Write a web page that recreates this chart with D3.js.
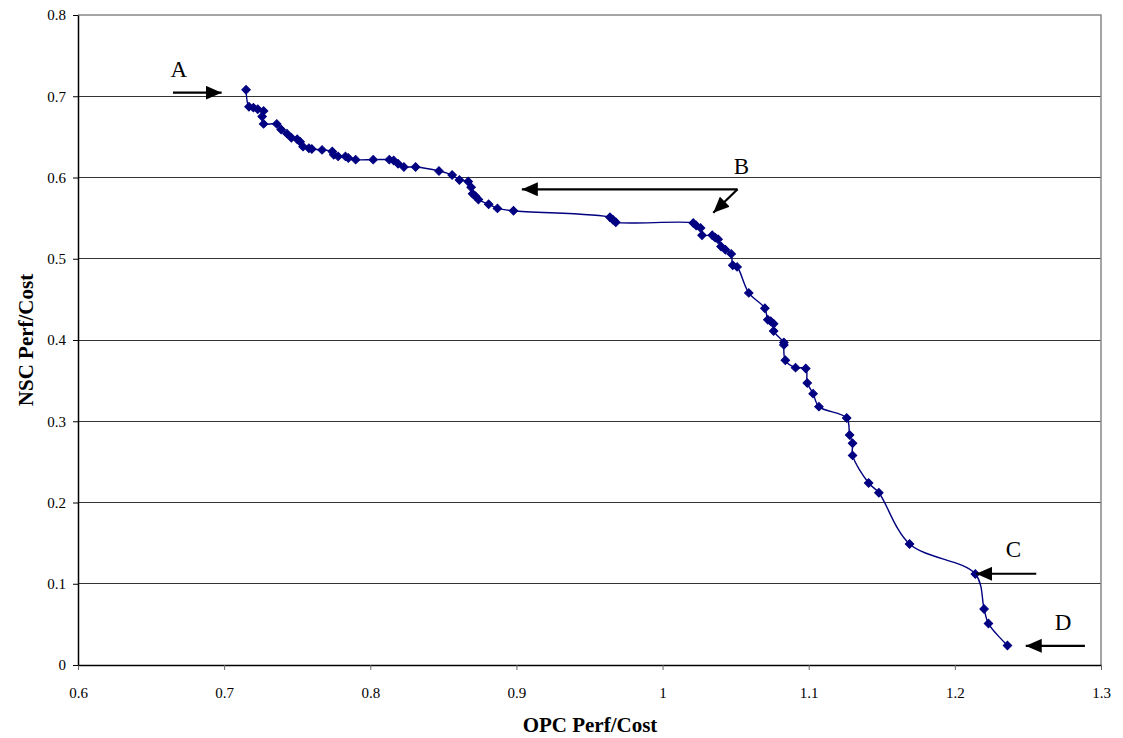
<!DOCTYPE html>
<html>
<head>
<meta charset="utf-8">
<script src="https://cdn.jsdelivr.net/npm/d3@7"></script>
<style>
  html, body { margin: 0; padding: 0; background: #fff; }
  svg { display: block; }
  text { font-family: "Liberation Serif", "Times New Roman", serif; }
</style>
</head>
<body>
<svg id="chart" width="1123" height="738"></svg>
<script>
// ---- Data ----
const opc = [0.715,0.717,0.720,0.723,0.727,0.726,0.727,0.736,0.739,0.743,0.746,0.750,0.752,0.754,0.758,0.760,0.767,0.774,0.775,0.778,0.783,0.785,0.790,0.802,0.813,0.816,0.819,0.823,0.831,0.847,0.856,0.861,0.867,0.869,0.870,0.872,0.874,0.881,0.887,0.898,0.964,0.966,0.968,1.021,1.023,1.026,1.027,1.034,1.036,1.038,1.040,1.043,1.047,1.048,1.051,1.059,1.070,1.072,1.074,1.076,1.076,1.083,1.083,1.084,1.091,1.098,1.099,1.103,1.107,1.126,1.128,1.130,1.130,1.141,1.148,1.169,1.214,1.220,1.223,1.236];
const nsc = [0.708,0.687,0.686,0.684,0.682,0.675,0.666,0.666,0.659,0.654,0.649,0.647,0.644,0.638,0.636,0.635,0.634,0.632,0.628,0.626,0.626,0.624,0.622,0.622,0.622,0.621,0.617,0.613,0.613,0.608,0.603,0.597,0.595,0.588,0.580,0.577,0.573,0.567,0.562,0.559,0.551,0.548,0.545,0.544,0.541,0.538,0.529,0.529,0.526,0.524,0.515,0.511,0.506,0.492,0.490,0.458,0.439,0.425,0.423,0.420,0.411,0.397,0.394,0.375,0.366,0.365,0.347,0.334,0.318,0.304,0.283,0.273,0.258,0.224,0.212,0.149,0.112,0.069,0.051,0.024];
const xTicks = [0.6,0.7,0.8,0.9,1.0,1.1,1.2,1.3];
const yTicks = [0,0.1,0.2,0.3,0.4,0.5,0.6,0.7,0.8];
const xTitle = "OPC Perf/Cost";
const yTitle = "NSC Perf/Cost";
// annotation labels, arrow tails and tips in data units
const annLabels = ["A","B","C","D"];
const annLabelX = [0.669,1.054,1.240,1.274];
const annLabelY = [0.733,0.614,0.142,0.052];
const arrowFromX = [0.6650,1.0513,1.0513,1.2557,1.2890];
const arrowFromY = [0.7044,0.5855,0.5855,0.1123,0.0236];
const arrowToX   = [0.6983,0.9037,1.0347,1.2146,1.2485];
const arrowToY   = [0.7044,0.5855,0.5566,0.1123,0.0236];

// ---- Layout ----
const svg = d3.select("#chart");
const mLeft = 78, mRight = 1101, mTop = 15, mBottom = 665;
const x = d3.scaleLinear().domain([0.6,1.3]).range([mLeft,mRight]);
const y = d3.scaleLinear().domain([0,0.8]).range([mBottom,mTop]);
const fmt = d => String(+d.toFixed(1));
const serif = "Liberation Serif, Times New Roman, serif";

// gridlines
svg.append("g").selectAll("line").data(yTicks.filter(v => v > 0 && v < 0.8)).join("line")
  .attr("x1", mLeft).attr("x2", mRight)
  .attr("y1", d => y(d)).attr("y2", d => y(d))
  .attr("stroke", "#333").attr("stroke-width", 1).attr("shape-rendering","crispEdges");

// plot border (top/right gray)
svg.append("path")
  .attr("d", `M${mLeft},${y(0.8)}H${mRight}V${mBottom}`)
  .attr("fill","none").attr("stroke","#888").attr("stroke-width",1.5);

// axes
const xAxis = d3.axisBottom(x).tickValues(xTicks).tickFormat(fmt).tickSize(5).tickSizeOuter(0).tickPadding(17);
const yAxis = d3.axisLeft(y).tickValues(yTicks).tickFormat(fmt).tickSize(5).tickSizeOuter(0).tickPadding(7);
const gx = svg.append("g").attr("transform",`translate(0,${mBottom})`).call(xAxis);
const gy = svg.append("g").attr("transform",`translate(${mLeft},0)`).call(yAxis);
[gx, gy].forEach(g => {
  g.attr("font-family", serif).attr("font-size", 15);
  g.select(".domain").attr("stroke","#000").attr("stroke-width",1.5);
  g.selectAll(".tick line").attr("stroke","#000").attr("stroke-width",1);
  g.selectAll(".tick text").attr("fill","#000").attr("font-family", serif).attr("font-size", 15);
});
gx.selectAll(".tick line").attr("stroke","#666");

// axis titles
svg.append("text").attr("x", 590).attr("y", 732).attr("text-anchor","middle")
  .attr("font-family", serif).attr("font-size",21).attr("font-weight","bold").text(xTitle);
svg.append("text").attr("transform","translate(33,340) rotate(-90)").attr("text-anchor","middle")
  .attr("font-family", serif).attr("font-size",21).attr("font-weight","bold").text(yTitle);

// data line
const pts = opc.map((v,i) => [v, nsc[i]]);
const line = d3.line().x(d => x(d[0])).y(d => y(d[1])).curve(d3.curveCatmullRom.alpha(0.5));
svg.append("path").datum(pts).attr("d", line)
  .attr("fill","none").attr("stroke","#000080").attr("stroke-width",1.4);

// markers (diamonds)
const diamond = d3.symbol().type(d3.symbolSquare).size(36);
svg.append("g").selectAll("path").data(pts).join("path")
  .attr("d", diamond)
  .attr("transform", d => `translate(${x(d[0])},${y(d[1])}) rotate(45)`)
  .attr("fill","#000080").attr("stroke","#000080").attr("stroke-width",1);

// annotations
const defs = svg.append("defs");
defs.append("marker").attr("id","ah").attr("viewBox","0 0 16 14")
  .attr("refX",16).attr("refY",7).attr("markerWidth",16).attr("markerHeight",14)
  .attr("markerUnits","userSpaceOnUse").attr("orient","auto")
  .append("path").attr("d","M0,0L16,7L0,14Z").attr("fill","#000");
svg.append("g").selectAll("line").data(arrowFromX).join("line")
  .attr("x1", (d,i) => x(arrowFromX[i])).attr("y1", (d,i) => y(arrowFromY[i]))
  .attr("x2", (d,i) => x(arrowToX[i])).attr("y2", (d,i) => y(arrowToY[i]))
  .attr("stroke","#000").attr("stroke-width",2.2).attr("marker-end","url(#ah)");
svg.append("g").selectAll("text").data(annLabels).join("text")
  .attr("x", (d,i) => x(annLabelX[i])).attr("y", (d,i) => y(annLabelY[i]))
  .attr("text-anchor","middle").attr("dominant-baseline","central")
  .attr("font-family", serif).attr("font-size",23).text(d => d);
</script>
</body>
</html>
